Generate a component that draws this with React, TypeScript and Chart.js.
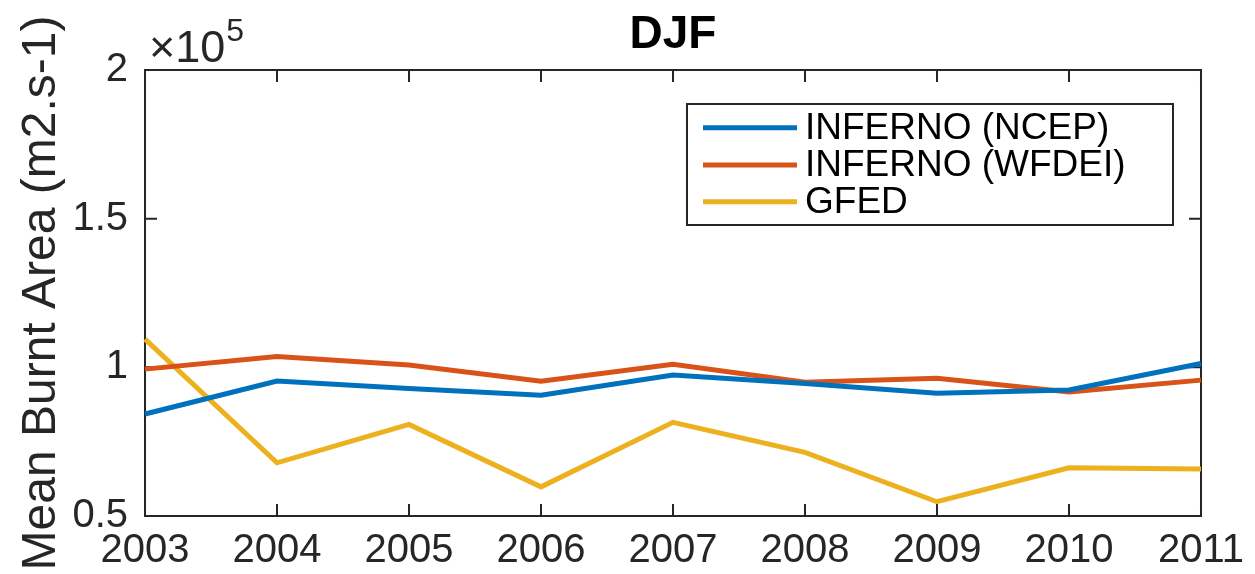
import React, { useEffect, useRef } from "react";
import { Chart, registerables } from "chart.js";

Chart.register(...registerables);

const years = ["2003", "2004", "2005", "2006", "2007", "2008", "2009", "2010", "2011"];
const infernoNcep = [0.843, 0.954, 0.929, 0.906, 0.974, 0.946, 0.913, 0.924, 1.013];
const infernoWfdei = [0.994, 1.036, 1.008, 0.953, 1.010, 0.950, 0.963, 0.917, 0.957];
const gfed = [1.095, 0.679, 0.808, 0.598, 0.815, 0.714, 0.548, 0.662, 0.658];
const yTicks = [0.5, 1, 1.5, 2];
const seriesNames = ["INFERNO (NCEP)", "INFERNO (WFDEI)", "GFED"];
const seriesColors = ["#0072BD", "#D95319", "#EDB120"];
const titleText = "DJF";
const yLabel = "Mean Burnt Area (m2.s-1)";

const FONT = "'Liberation Sans', Arial, Helvetica, sans-serif";
const AXIS = "#262626";

const decorPlugin = {
  id: "decor",
  beforeDatasetsDraw(chart: any) {
    const ctx = chart.ctx;
    const { left, right, top, bottom } = chart.chartArea;
    const xs = chart.scales.x;
    const ys = chart.scales.y;
    ctx.save();
    ctx.strokeStyle = AXIS;
    ctx.lineWidth = 2;
    ctx.strokeRect(left, top, right - left, bottom - top);
    const tl = 12;
    ctx.beginPath();
    years.forEach((_, i) => {
      const px = xs.getPixelForValue(i);
      ctx.moveTo(px, bottom);
      ctx.lineTo(px, bottom - tl);
      ctx.moveTo(px, top);
      ctx.lineTo(px, top + tl);
    });
    yTicks.forEach((v) => {
      const py = ys.getPixelForValue(v);
      ctx.moveTo(left, py);
      ctx.lineTo(left + tl, py);
      ctx.moveTo(right, py);
      ctx.lineTo(right - tl, py);
    });
    ctx.stroke();
    ctx.restore();
  },
  afterDraw(chart: any) {
    const ctx = chart.ctx;
    const { left, right, top, bottom } = chart.chartArea;
    ctx.save();
    // title
    ctx.fillStyle = "#000";
    ctx.font = `bold 46px ${FONT}`;
    ctx.textAlign = "center";
    ctx.textBaseline = "alphabetic";
    ctx.fillText(titleText, (left + right) / 2, 48);
    // y label
    ctx.save();
    ctx.translate(55, (top + bottom) / 2);
    ctx.rotate(-Math.PI / 2);
    ctx.fillStyle = AXIS;
    ctx.font = `48px ${FONT}`;
    ctx.textAlign = "center";
    ctx.fillText(yLabel, 0, 0);
    ctx.restore();
    // exponent
    ctx.fillStyle = AXIS;
    ctx.textAlign = "left";
    ctx.font = `45px ${FONT}`;
    ctx.fillText("\u00d710", 149, 62);
    const w = ctx.measureText("\u00d710").width;
    ctx.font = `32px ${FONT}`;
    ctx.fillText("5", 149 + w + 1, 41);
    // legend
    const bx = 687, by = 104, bw = 486, bh = 121;
    ctx.fillStyle = "#fff";
    ctx.fillRect(bx, by, bw, bh);
    ctx.strokeStyle = AXIS;
    ctx.lineWidth = 2;
    ctx.strokeRect(bx, by, bw, bh);
    const rows = [127.7, 165, 201.7];
    seriesNames.forEach((name, i) => {
      ctx.strokeStyle = seriesColors[i];
      ctx.lineWidth = 5;
      ctx.beginPath();
      ctx.moveTo(703, rows[i]);
      ctx.lineTo(797, rows[i]);
      ctx.stroke();
      ctx.fillStyle = "#000";
      ctx.font = `37px ${FONT}`;
      ctx.textBaseline = "middle";
      ctx.fillText(name, 805, rows[i] + 1);
    });
    ctx.restore();
  },
};

export default function App() {
  const ref = useRef<HTMLCanvasElement | null>(null);
  useEffect(() => {
    if (!ref.current) return;
    const data = [infernoNcep, infernoWfdei, gfed];
    const chart = new Chart(ref.current, {
      type: "line",
      data: {
        labels: years,
        datasets: seriesNames.map((n, i) => ({
          label: n,
          data: data[i],
          borderColor: seriesColors[i],
          backgroundColor: seriesColors[i],
          borderWidth: 5,
          pointRadius: 0,
          tension: 0,
          clip: false as any,
        })),
      },
      options: {
        animation: false,
        responsive: false,
        maintainAspectRatio: false,
        layout: { padding: { left: 0, top: 70, right: 50, bottom: 0 } },
        plugins: { legend: { display: false }, title: { display: false }, tooltip: { enabled: false } },
        scales: {
          x: {
            type: "category",
            offset: false,
            grid: { display: false, drawTicks: false },
            border: { display: false },
            ticks: {
              color: AXIS,
              font: { family: FONT, size: 40 },
              padding: 11,
              maxRotation: 0,
              autoSkip: false,
            },
            afterFit(s: any) {
              s.height = 58;
            },
          },
          y: {
            min: 0.5,
            max: 2,
            grid: { display: false, drawTicks: false },
            border: { display: false },
            ticks: {
              stepSize: 0.5,
              color: AXIS,
              font: { family: FONT, size: 40 },
              padding: 17,
              callback: (v: any) => String(v),
            },
            afterFit(s: any) {
              s.width = 145;
            },
          },
        },
      },
      plugins: [decorPlugin],
    });
    return () => chart.destroy();
  }, []);
  return (
    <div style={{ position: "fixed", left: 0, top: 0, width: 1255, height: 574, background: "#fff" }}>
      <canvas ref={ref} width={1255} height={574} style={{ width: 1255, height: 574 }} />
    </div>
  );
}
